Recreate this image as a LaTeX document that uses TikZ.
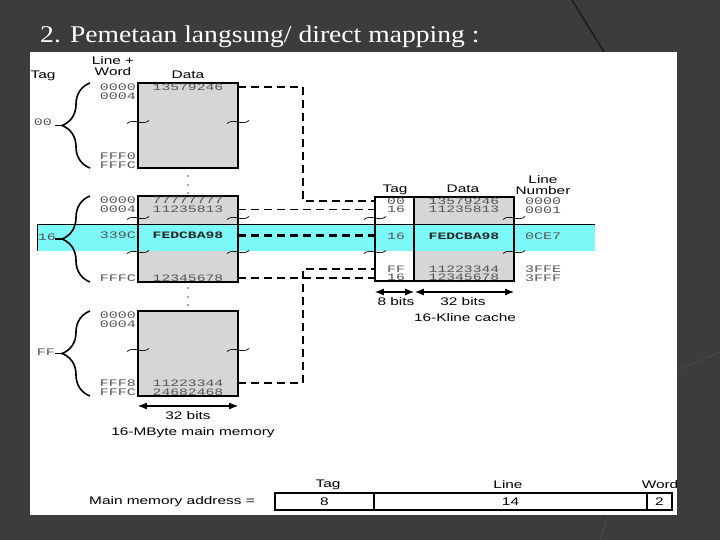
\documentclass[tikz,border=0pt]{standalone}
\usepackage{fontspec}
\usetikzlibrary{arrows.meta,decorations.pathreplacing,calc}
\newfontfamily\lsans[FakeStretch=1.4]{Liberation Sans}
\newfontfamily\lmono[FakeStretch=1.5]{Liberation Mono}
\newfontfamily\ttlfont[FakeStretch=1.15]{Liberation Serif}
\definecolor{slidebg}{RGB}{60,60,60}
\definecolor{memgray}{RGB}{214,214,214}
\definecolor{hl}{RGB}{125,248,248}
\definecolor{hexc}{RGB}{85,85,85}
\tikzset{
  lbl/.style={font=\lsans\fontsize{11}{11}\selectfont, inner sep=0pt},
  hex/.style={font=\lmono\fontsize{9.8}{10}\selectfont, text=hexc, inner sep=0pt},
  hexl/.style={font=\lmono\fontsize{10}{10}\selectfont, text=hexc, inner sep=0pt},
  hexb/.style={font=\lmono\bfseries\fontsize{9.8}{10}\selectfont, text=black!85, inner sep=0pt},
  adr/.style={hexl, anchor=east},
  blkfill/.style={fill=memgray, draw=none, inner sep=0pt},
  blk/.style={line width=1.6pt},
  brc/.style={line width=1.6pt, decorate, decoration={brace, amplitude=28pt, aspect=0.5}},
  map/.style={line width=1.7pt, dash pattern=on 8pt off 5pt},
  mapb/.style={line width=2.3pt, dash pattern=on 8pt off 5pt},
  dbl/.style={line width=1.3pt, arrows={Latex[length=9pt,width=7pt]-Latex[length=9pt,width=7pt]}},
  squig/.pic={\draw[line width=0.7pt] (-11,1.5) .. controls (-4,-4.5) and (4,4.5) .. (11,-1.5);},
  mdot/.style={circle, fill=black!70, inner sep=0pt, minimum size=1.6pt}
}
\begin{document}
\begin{tikzpicture}[x=1pt,y=-1pt]
\useasboundingbox (0,0) rectangle (720,540);
% slide background
\fill[slidebg] (0,0) rectangle (720,540);
\draw[line width=1.5pt, color={rgb,255:red,28;green,28;blue,28}] (572,0) -- (604,52);
\draw[line width=1pt, color={rgb,255:red,72;green,72;blue,72}] (677,370) -- (720,352);
\draw[line width=1pt, color={rgb,255:red,72;green,72;blue,72}] (600,540) -- (608,515);
\fill[white] (30,52) rectangle (677,515);
\node[anchor=base west, text=white, font=\ttlfont\fontsize{24}{24}\selectfont, inner sep=0pt] (title) at (40,43) {2. Pemetaan langsung/ direct mapping :};

% block fills
\node[blkfill, minimum width=100pt, minimum height=85pt] (B1) at (188,125.5) {};
\node[blkfill, minimum width=100pt, minimum height=86pt] (B2) at (188,239) {};
\node[blkfill, minimum width=100pt, minimum height=85pt] (B3) at (188,353.5) {};
\node[draw=none, fill=white, inner sep=0pt, minimum width=39pt, minimum height=84pt] (CT) at (394.5,239) {};
\node[blkfill, minimum width=100pt, minimum height=84pt] (CD) at (464,239) {};

% highlight band
\fill[hl] (37,224) rectangle (595,251);
\draw[line width=0.8pt] (37,251) -- (37,224) -- (595,224);

% block borders
\foreach \b in {B1,B2,B3,CT,CD} \draw[blk] (\b.north west) rectangle (\b.south east);

% headers
\node[lbl] (hTag) at (43,75.5) {Tag};
\node[lbl] (hLW1) at (113,61) {Line +};
\node[lbl] (hLW2) at (113,72) {Word};
\node[lbl] (hData) at (188,75) {Data};

% block 1
\node[adr] (a10) at (136,87) {0000};
\node[adr] (a11) at (136,96) {0004};
\node[adr] (a12) at (136,156) {FFF0};
\node[adr] (a13) at (136,165) {FFFC};
\node[hex] (d10) at (188,87) {13579246};
\node[hexl] (t1) at (43,122) {00};
\draw[brc] (90,168) -- (90,83);
\draw[line width=1.6pt] (55,125.5) -- (62,125.5);

% block 2
\node[adr] (a20) at (136,200.5) {0000};
\node[adr] (a21) at (136,209.5) {0004};
\node[adr] (a22) at (136,235.5) {339C};
\node[adr] (a23) at (136,278) {FFFC};
\node[hex] (d20) at (188,200.5) {77777777};
\node[hex] (d21) at (188,209.5) {11235813};
\node[hexb] (d22) at (188,235.5) {FEDCBA98};
\node[hex] (d23) at (188,278) {12345678};
\node[hexl] (t2) at (47,237) {16};
\draw[brc] (90,282) -- (90,196);
\draw[line width=1.6pt] (55,239) -- (62,239);

% block 3
\node[adr] (a30) at (136,315) {0000};
\node[adr] (a31) at (136,324) {0004};
\node[adr] (a32) at (136,383) {FFF8};
\node[adr] (a33) at (136,392) {FFFC};
\node[hex] (d32) at (188,383) {11223344};
\node[hex] (d33) at (188,392) {24682468};
\node[hexl] (t3) at (46,352) {FF};
\draw[brc] (90,396) -- (90,311);
\draw[line width=1.6pt] (55,353.5) -- (62,353.5);

% vertical dots
\foreach \y [count=\i] in {176,185,193,288,297,305} \node[mdot] (dot\i) at (188,\y) {};

% squiggles
\foreach \p in {(138,122),(238,122),(138,218),(238,218),(138,252),(238,252),(138,350),(238,350),(375,218),(375,252),(514,218),(514,252)}
  \path \p pic {squig};

% memory width
\draw[dbl] (B3.south west |- 0,406) -- (B3.south east |- 0,406);
\node[lbl] (m32) at (188,415.5) {32 bits};
\node[lbl] (mcap) at (193,433) {16-MByte main memory};

% cache headers
\node[lbl] (cTag) at (395,190) {Tag};
\node[lbl] (cData) at (463,189) {Data};
\node[lbl] (cLN1) at (543,179.5) {Line};
\node[lbl] (cLN2) at (543,191) {Number};

% cache contents
\node[hex] (ct0) at (396,201) {00};
\node[hex] (ct1) at (396,209.5) {16};
\node[hex] (ct2) at (396,236) {16};
\node[hex] (ct3) at (396,269) {FF};
\node[hex] (ct4) at (396,277.5) {16};
\node[hex] (cd0) at (464,201) {13579246};
\node[hex] (cd1) at (464,209.5) {11235813};
\node[hexb] (cd2) at (464,236) {FEDCBA98};
\node[hex] (cd3) at (464,269) {11223344};
\node[hex] (cd4) at (464,277.5) {12345678};
\node[hexl] (ln0) at (543,201) {0000};
\node[hexl] (ln1) at (543,210) {0001};
\node[hexl] (ln2) at (543,236) {0CE7};
\node[hexl] (ln3) at (543,269) {3FFE};
\node[hexl] (ln4) at (543,278) {3FFF};

% cache widths
\draw[dbl] (CT.west |- 0,292) -- (CT.east |- 0,292);
\draw[dbl] ($(CD.west |- 0,292)+(1,0)$) -- (CD.east |- 0,292);
\node[lbl] (c8) at (396,302) {8 bits};
\node[lbl] (c32) at (463,302) {32 bits};
\node[lbl] (ccap) at (465,318) {16-Kline cache};

% mapping connectors
\coordinate (k1) at (303,87);
\coordinate (k2) at (303,383);
\draw[map] (B1.east |- d10) -- (k1) |- (CT.west |- ct0);
\draw[map] (B2.east |- d21) -- (CT.west |- d21);
\draw[mapb] (B2.east |- d22) -- (CT.west |- d22);
\draw[map] (B2.east |- d23) -- (CT.west |- d23);
\draw[map] (B3.east |- d32) -- (k2) |- (CT.west |- ct3);

% main memory address
\node[lbl] (mma) at (172,501.5) {Main memory address =};
\node[draw, line width=1.2pt, inner sep=0pt, minimum width=99pt, minimum height=17pt] (fT) at (324.5,501.5) {};
\node[draw, line width=1.2pt, inner sep=0pt, minimum width=273pt, minimum height=17pt] (fL) at (510.5,501.5) {};
\node[draw, line width=1.2pt, inner sep=0pt, minimum width=25pt, minimum height=17pt] (fW) at (659.5,501.5) {};
\node[lbl] (vT) at (fT) {8};
\node[lbl] (vL) at (fL) {14};
\node[lbl] (vW) at (fW) {2};
\node[lbl] (hT) at (328,485) {Tag};
\node[lbl] (hL) at (508,485) {Line};
\node[lbl] (hW) at (660,485) {Word};
\end{tikzpicture}
\end{document}
